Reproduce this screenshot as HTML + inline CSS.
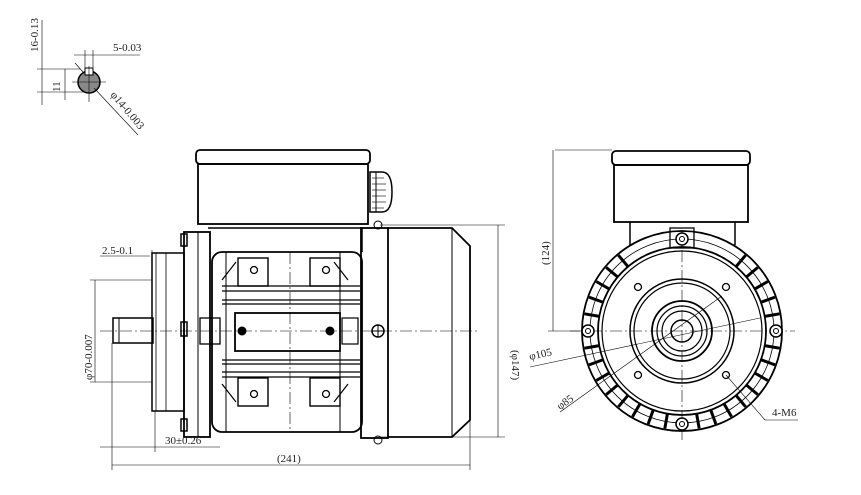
<!DOCTYPE html>
<html><head><meta charset="utf-8"><style>
html,body{margin:0;padding:0;background:#fff;width:861px;height:495px;overflow:hidden}
svg{display:block}
text{font-family:"Liberation Serif",serif;font-size:11px;fill:#222}
</style></head><body>
<svg width="861" height="495" viewBox="0 0 861 495" xmlns="http://www.w3.org/2000/svg">
<g fill="none" stroke="#000" stroke-width="1">
<!-- Shaft detail top-left -->
<circle cx="89" cy="82" r="11" fill="#888" stroke-width="1.5"/>
<rect x="85" y="68" width="8" height="7" fill="#fff"/>
<line x1="72" y1="82" x2="106" y2="82" stroke-width="0.6"/>
<line x1="89" y1="66" x2="89" y2="102" stroke-width="0.6"/>
<line x1="37" y1="69" x2="80" y2="69" stroke-width="0.6"/>
<line x1="37" y1="92" x2="85" y2="92" stroke-width="0.6"/>
<line x1="42" y1="20" x2="42" y2="105" stroke-width="0.6"/>
<line x1="65" y1="69" x2="65" y2="100" stroke-width="0.6"/>
<line x1="74" y1="55" x2="140" y2="55" stroke-width="0.6"/>
<line x1="85" y1="50" x2="85" y2="68" stroke-width="0.6"/>
<line x1="93" y1="50" x2="93" y2="68" stroke-width="0.6"/>
<line x1="94" y1="88" x2="138" y2="135" stroke-width="0.6"/>
<line x1="75" y1="63" x2="83" y2="72" stroke-width="0.6"/>
<!-- Side view: terminal box -->
<rect x="196" y="150" width="174" height="14" rx="4" stroke-width="1.8"/>
<rect x="198" y="164" width="170" height="60" stroke-width="1.8"/>
<path d="M370 172 h12 q10 0 10 20 q0 20 -10 20 h-12z" stroke-width="1.5"/>
<g stroke-width="0.6"><line x1="372" y1="178" x2="384" y2="178"/><line x1="372" y1="184" x2="386" y2="184"/><line x1="372" y1="190" x2="386" y2="190"/><line x1="372" y1="196" x2="386" y2="196"/><line x1="372" y1="202" x2="386" y2="202"/><line x1="372" y1="208" x2="384" y2="208"/></g>
<line x1="376" y1="172" x2="376" y2="212"/>
<!-- front flange / end shield -->
<rect x="152" y="253" width="32" height="158" stroke-width="1.5"/>
<rect x="156" y="253" width="10" height="158" stroke-width="0.8"/>
<rect x="184" y="232" width="26" height="205" stroke-width="1.8"/>
<rect x="198" y="232" width="12" height="205" stroke-width="1"/>
<rect x="181" y="234" width="6" height="12" stroke-width="1.5"/><rect x="181" y="322" width="6" height="14" stroke-width="1.5"/><rect x="181" y="419" width="6" height="12" stroke-width="1.5"/>
<rect x="200" y="318" width="20" height="26" stroke-width="1.3"/>
<!-- shaft -->
<rect x="113" y="318" width="40" height="25" stroke-width="1.5"/>
<line x1="119" y1="318" x2="119" y2="343"/>
<!-- body -->
<rect x="212" y="252" width="150" height="180" rx="10" stroke-width="1.8"/>
<path d="M208 228 H362 V252" stroke-width="1.5"/>
<line x1="226" y1="252" x2="226" y2="432"/>
<line x1="340" y1="252" x2="340" y2="432"/>
<g stroke-width="1.2">
<line x1="222" y1="286" x2="360" y2="286"/><line x1="222" y1="291" x2="360" y2="291"/>
<line x1="222" y1="300" x2="360" y2="300"/><line x1="222" y1="304" x2="360" y2="304"/>
<line x1="222" y1="360" x2="360" y2="360"/><line x1="222" y1="364" x2="360" y2="364"/>
<line x1="222" y1="372" x2="360" y2="372"/><line x1="222" y1="377" x2="360" y2="377"/>
</g>
<path d="M222 280 L236 262 M348 280 L334 262 M222 384 L236 402 M348 384 L334 402" stroke-width="1.2"/>
<rect x="238" y="258" width="30" height="28" stroke-width="1.4"/><rect x="310" y="258" width="30" height="28" stroke-width="1.4"/>
<rect x="238" y="378" width="30" height="28" stroke-width="1.4"/><rect x="310" y="378" width="30" height="28" stroke-width="1.4"/>
<circle cx="254" cy="270" r="3.5" stroke-width="1.3"/><circle cx="326" cy="270" r="3.5" stroke-width="1.3"/><circle cx="254" cy="394" r="3.5" stroke-width="1.3"/><circle cx="326" cy="394" r="3.5" stroke-width="1.3"/>
<rect x="235" y="313" width="105" height="38" stroke-width="1.8"/>
<rect x="342" y="318" width="16" height="26" stroke-width="1.2"/>
<circle cx="242" cy="331" r="4" fill="#000"/><circle cx="330" cy="331" r="4" fill="#000"/>
<!-- fan cover -->
<rect x="361" y="228" width="27" height="210" stroke-width="1.8"/>
<path d="M388 228 H452 L470 246 V420 L452 437 H388" stroke-width="1.8"/>
<line x1="452" y1="228" x2="452" y2="437"/>
<circle cx="378" cy="331" r="6" stroke-width="1.5"/>
<line x1="372" y1="331" x2="384" y2="331"/><line x1="378" y1="325" x2="378" y2="337"/>
<circle cx="378" cy="225" r="4"/><circle cx="378" cy="440" r="4"/>
<!-- centerlines -->
<g stroke-width="0.6" stroke-dasharray="12 3 2 3">
<line x1="100" y1="331" x2="480" y2="331"/>
<line x1="290" y1="252" x2="290" y2="432"/>
<line x1="570" y1="331" x2="795" y2="331"/>
<line x1="682" y1="230" x2="682" y2="440"/>
</g>
<!-- side dims -->
<g stroke-width="0.6">
<line x1="380" y1="225" x2="505" y2="225"/><line x1="380" y1="437" x2="505" y2="437"/>
<line x1="498" y1="225" x2="498" y2="437"/>
<line x1="112" y1="343" x2="112" y2="470"/><line x1="470" y1="420" x2="470" y2="470"/>
<line x1="112" y1="465" x2="470" y2="465"/>
<line x1="90" y1="280" x2="152" y2="280"/><line x1="90" y1="382" x2="152" y2="382"/>
<line x1="95" y1="280" x2="95" y2="382"/>
<line x1="100" y1="447" x2="220" y2="447"/><line x1="155" y1="411" x2="155" y2="452"/>
<line x1="100" y1="256" x2="150" y2="256"/><line x1="152" y1="250" x2="152" y2="262"/>
</g>
<!-- front view -->
<rect x="612" y="151" width="138" height="14" rx="4" stroke-width="1.8"/>
<rect x="614" y="165" width="134" height="57" stroke-width="1.8"/>
<path d="M630 222 V245 M735 222 V245" stroke-width="1.5"/>
<rect x="670" y="228" width="24" height="20" stroke-width="1.3"/>
<circle cx="682" cy="331" r="100" stroke-width="1.8"/>
<circle cx="682" cy="331" r="92" stroke-width="0.8"/>
<circle cx="682" cy="331" r="84" stroke-width="1.8"/>
<circle cx="682" cy="331" r="80" stroke-width="1.2"/>
<circle cx="682" cy="331" r="52" stroke-width="1.5"/>
<circle cx="682" cy="331" r="48" stroke-width="1.2"/>
<circle cx="682" cy="331" r="30" stroke-width="1.8"/>
<circle cx="682" cy="331" r="25" stroke-width="1.2"/><circle cx="682" cy="331" r="20" stroke-width="1.2"/>
<circle cx="682" cy="331" r="11" stroke-width="1.5"/>
<g stroke-width="3">
<line x1="682" y1="232" x2="682" y2="247" transform="rotate(40 682 331)"/>
<line x1="682" y1="232" x2="682" y2="247" transform="rotate(50 682 331)"/>
<line x1="682" y1="232" x2="682" y2="247" transform="rotate(60 682 331)"/>
<line x1="682" y1="232" x2="682" y2="247" transform="rotate(70 682 331)"/>
<line x1="682" y1="232" x2="682" y2="247" transform="rotate(80 682 331)"/>
<line x1="682" y1="232" x2="682" y2="247" transform="rotate(100 682 331)"/>
<line x1="682" y1="232" x2="682" y2="247" transform="rotate(110 682 331)"/>
<line x1="682" y1="232" x2="682" y2="247" transform="rotate(120 682 331)"/>
<line x1="682" y1="232" x2="682" y2="247" transform="rotate(130 682 331)"/>
<line x1="682" y1="232" x2="682" y2="247" transform="rotate(140 682 331)"/>
<line x1="682" y1="232" x2="682" y2="247" transform="rotate(150 682 331)"/>
<line x1="682" y1="232" x2="682" y2="247" transform="rotate(160 682 331)"/>
<line x1="682" y1="232" x2="682" y2="247" transform="rotate(170 682 331)"/>
<line x1="682" y1="232" x2="682" y2="247" transform="rotate(190 682 331)"/>
<line x1="682" y1="232" x2="682" y2="247" transform="rotate(200 682 331)"/>
<line x1="682" y1="232" x2="682" y2="247" transform="rotate(210 682 331)"/>
<line x1="682" y1="232" x2="682" y2="247" transform="rotate(220 682 331)"/>
<line x1="682" y1="232" x2="682" y2="247" transform="rotate(230 682 331)"/>
<line x1="682" y1="232" x2="682" y2="247" transform="rotate(240 682 331)"/>
<line x1="682" y1="232" x2="682" y2="247" transform="rotate(250 682 331)"/>
<line x1="682" y1="232" x2="682" y2="247" transform="rotate(260 682 331)"/>
<line x1="682" y1="232" x2="682" y2="247" transform="rotate(280 682 331)"/>
<line x1="682" y1="232" x2="682" y2="247" transform="rotate(290 682 331)"/>
<line x1="682" y1="232" x2="682" y2="247" transform="rotate(300 682 331)"/>
<line x1="682" y1="232" x2="682" y2="247" transform="rotate(310 682 331)"/>
<line x1="682" y1="232" x2="682" y2="247" transform="rotate(320 682 331)"/>
</g>
<g fill="#fff" stroke-width="1.5">
<circle cx="682" cy="239" r="6"/><circle cx="682" cy="424" r="6"/><circle cx="588" cy="331" r="6"/><circle cx="776" cy="331" r="6"/>
</g>
<circle cx="682" cy="239" r="2.5"/><circle cx="682" cy="424" r="2.5"/><circle cx="588" cy="331" r="2.5"/><circle cx="776" cy="331" r="2.5"/>
<circle cx="638" cy="287" r="3.5" stroke-width="1.3"/><circle cx="726" cy="287" r="3.5" stroke-width="1.3"/><circle cx="638" cy="375" r="3.5" stroke-width="1.3"/><circle cx="726" cy="375" r="3.5" stroke-width="1.3"/>
<g stroke-width="0.6">
<line x1="555" y1="150" x2="612" y2="150"/><line x1="548" y1="331" x2="580" y2="331"/>
<line x1="553" y1="150" x2="553" y2="331"/>
<line x1="530" y1="367" x2="760" y2="318"/>
<line x1="560" y1="412" x2="722" y2="296"/>
<line x1="726" y1="375" x2="765" y2="420"/><line x1="765" y1="420" x2="798" y2="420"/>
</g>
</g>
<g>
<text x="0" y="0" transform="translate(38,52) rotate(-90)">16-0.13</text>
<text x="113" y="51">5-0.03</text>
<text x="0" y="0" transform="translate(60,92) rotate(-90)">11</text>
<text x="0" y="0" transform="translate(110,95) rotate(50)">φ14-0.003</text>
<text x="102" y="254">2.5-0.1</text>
<text x="0" y="0" transform="translate(92,380) rotate(-90)">φ70-0.007</text>
<text x="165" y="444">30±0.26</text>
<text x="277" y="462">(241)</text>
<text x="0" y="0" transform="translate(512,350) rotate(90)">(φ147)</text>
<text x="0" y="0" transform="translate(549,265) rotate(-90)">(124)</text>
<text x="530" y="360" transform="rotate(-12 530 360)">φ105</text>
<text x="560" y="410" transform="rotate(-35 560 410)">φ85</text>
<text x="772" y="416">4-M6</text>
</g>
</svg>
</body></html>
